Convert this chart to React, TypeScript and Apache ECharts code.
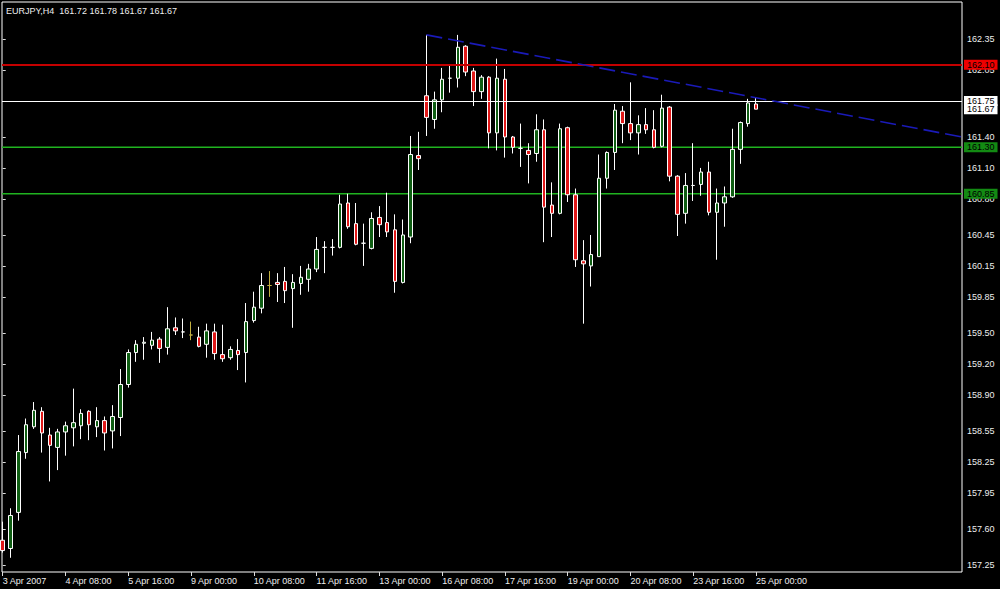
import React, { useEffect, useRef } from "react";
import * as echarts from "echarts";

const FONT = "'Liberation Sans', Arial, sans-serif";
const TEXT = "#eeeeee";

const chartTitle = "EURJPY,H4  161.72 161.78 161.67 161.67";

// H4 bars from 3 Apr 2007 00:00 (index 0) to 25 Apr 2007 00:00 (index 96)
const opens = [
  157.49, 157.41, 157.76, 158.34, 158.59, 158.74, 158.51, 158.39, 158.54, 158.58,
  158.60, 158.74, 158.59, 158.65, 158.55, 158.68, 159.00, 159.31, 159.40, 159.38,
  159.44, 159.36, 159.55, 159.51, 159.48, 159.46, 159.39, 159.51, 159.29, 159.26,
  159.33, 159.31, 159.62, 159.74, 159.96, 159.99, 160.00, 159.93, 159.98, 160.02,
  160.12, 160.33, 160.33, 160.33, 160.76, 160.56, 160.37, 160.32, 160.62, 160.57,
  160.50, 159.99, 160.43, 161.22, 161.80, 161.57, 161.76, 161.97, 161.97, 162.28,
  162.04, 161.84, 161.98, 161.44, 161.96, 161.40, 161.29, 161.27, 161.24, 161.47,
  160.74, 160.66, 161.49, 160.84, 160.20, 160.15, 160.24, 161.00, 161.25, 161.65,
  161.53, 161.44, 161.52, 161.47, 161.31, 161.69, 161.02, 160.66, 160.93, 160.94,
  161.06, 160.67, 160.76, 160.82, 161.28, 161.53, 161.72,
];
const highs = [
  157.67, 157.80, 158.51, 158.67, 158.83, 158.78, 158.58, 158.57, 158.64, 158.96,
  158.76, 158.75, 158.78, 158.69, 158.80, 159.15, 159.34, 159.43, 159.46, 159.51,
  159.46, 159.75, 159.65, 159.64, 159.61, 159.56, 159.59, 159.59, 159.58, 159.37,
  159.44, 159.79, 159.90, 160.08, 160.10, 160.08, 160.14, 160.07, 160.15, 160.17,
  160.43, 160.39, 160.41, 160.84, 160.85, 160.76, 160.56, 160.67, 160.73, 160.86,
  160.65, 160.60, 161.41, 161.45, 162.39, 161.84, 162.07, 162.09, 162.39, 162.29,
  162.07, 162.00, 161.99, 162.16, 162.06, 161.41, 161.53, 161.34, 161.62, 161.57,
  160.96, 161.53, 161.50, 160.90, 160.40, 160.45, 161.23, 161.26, 161.72, 161.70,
  161.93, 161.61, 161.68, 161.66, 161.81, 161.70, 161.03, 161.05, 161.34, 161.10,
  161.16, 160.90, 160.92, 161.48, 161.55, 161.77, 161.78,
];
const lows = [
  157.37, 157.32, 157.68, 158.28, 158.57, 158.34, 158.06, 158.17, 158.31, 158.40,
  158.47, 158.46, 158.49, 158.36, 158.38, 158.50, 158.97, 159.22, 159.24, 159.34,
  159.21, 159.29, 159.48, 159.45, 159.43, 159.36, 159.26, 159.24, 159.22, 159.24,
  159.14, 159.02, 159.60, 159.69, 159.85, 159.80, 159.79, 159.55, 159.87, 159.90,
  160.09, 160.08, 160.25, 160.32, 160.51, 160.35, 160.15, 160.31, 160.43, 160.43,
  159.89, 159.98, 160.37, 161.08, 161.41, 161.48, 161.64, 161.83, 161.88, 161.99,
  161.70, 161.77, 161.29, 161.27, 161.20, 161.24, 161.11, 160.95, 161.16, 160.38,
  160.43, 160.65, 160.77, 160.14, 159.59, 159.95, 160.24, 160.90, 161.08, 161.34,
  161.37, 161.23, 161.43, 161.29, 161.30, 160.97, 160.44, 160.56, 160.78, 160.83,
  160.64, 160.21, 160.53, 160.81, 161.14, 161.50, 161.67,
];
const closes = [
  157.39, 157.73, 158.35, 158.61, 158.75, 158.53, 158.41, 158.54, 158.60, 158.63,
  158.72, 158.61, 158.65, 158.53, 158.69, 159.00, 159.31, 159.39, 159.41, 159.43,
  159.35, 159.54, 159.52, 159.51, 159.48, 159.37, 159.52, 159.30, 159.25, 159.34,
  159.29, 159.61, 159.75, 159.96, 159.96, 159.97, 159.91, 159.99, 160.04, 160.12,
  160.31, 160.33, 160.33, 160.75, 160.53, 160.36, 160.37, 160.61, 160.55, 160.48,
  160.00, 160.45, 161.23, 161.19, 161.59, 161.76, 161.96, 161.97, 162.27, 162.03,
  161.84, 161.98, 161.44, 161.97, 161.40, 161.30, 161.29, 161.23, 161.47, 160.72,
  160.66, 161.48, 160.84, 160.21, 160.17, 160.26, 161.00, 161.25, 161.66, 161.53,
  161.44, 161.52, 161.47, 161.30, 161.68, 161.02, 160.65, 160.93, 160.93, 161.06,
  160.67, 160.76, 160.82, 161.28, 161.54, 161.73, 161.67,
];
const yellowBars = [24, 34];

const xTickBars = [0, 8, 16, 24, 32, 40, 48, 56, 64, 72, 80, 88, 96];
const xTickLabels = [
  "3 Apr 2007", "4 Apr 08:00", "5 Apr 16:00", "9 Apr 00:00", "10 Apr 08:00",
  "11 Apr 16:00", "13 Apr 00:00", "16 Apr 08:00", "17 Apr 16:00", "19 Apr 00:00",
  "20 Apr 08:00", "23 Apr 16:00", "25 Apr 00:00",
];
const yTickValues = [
  162.35, 162.05, 161.75, 161.4, 161.1, 160.8, 160.45, 160.15, 159.85,
  159.5, 159.2, 158.9, 158.55, 158.25, 157.95, 157.6, 157.25,
];

const redLevel = 162.1;
const whiteLevel = 161.75;
const bidLevel = 161.67;
const greenLevels = [161.3, 160.85];
const trendStart = [54, 162.39];
const trendEnd = [122.25, 161.4];

const X_MIN = -0.09;
const X_MAX = 122.25;
const Y_MIN = 157.182;
const Y_MAX = 162.709;

const GREEN_LINE = "#20b420";

const boxLabel = (bg: string, value: number) => ({
  show: true,
  position: "end" as const,
  distance: 2,
  formatter: () => value.toFixed(2),
  backgroundColor: bg,
  color: "#000",
  fontFamily: FONT,
  fontSize: 9,
  lineHeight: 10,
  padding: [0, 3, 0, 3],
});

export default function App() {
  const ref = useRef<HTMLDivElement>(null);

  useEffect(() => {
    if (!ref.current) return;
    const chart = echarts.init(ref.current, undefined, { renderer: "svg" });

    const data = opens.map((o, i) => {
      const value = [i, o, closes[i], lows[i], highs[i]];
      if (yellowBars.includes(i)) {
        return {
          value,
          itemStyle: { borderColor: "#c2b040", borderColor0: "#c2b040" },
        };
      }
      return value;
    });

    const greenSeries = greenLevels.map((lv) => ({
      type: "line",
      data: [
        [X_MIN, lv],
        [X_MAX, lv],
      ],
      symbol: "none",
      silent: true,
      z: 1,
      color: GREEN_LINE,
      lineStyle: { color: GREEN_LINE, width: 1.4, type: "solid", opacity: 1 },
    }));

    const option: any = {
      animation: false,
      backgroundColor: "#000",
      title: {
        text: chartTitle,
        left: 6,
        top: 5,
        padding: 0,
        textStyle: {
          color: TEXT,
          fontSize: 9,
          fontWeight: "normal",
          fontFamily: FONT,
          lineHeight: 11,
        },
      },
      grid: {
        left: 2,
        top: 2,
        right: 38,
        bottom: 17,
        show: true,
        borderColor: "#ffffff",
        borderWidth: 1,
        backgroundColor: "#000",
        containLabel: false,
        outerBoundsMode: "none",
      },
      xAxis: {
        type: "value",
        min: X_MIN,
        max: X_MAX,
        axisLine: { show: false },
        splitLine: { show: false },
        axisTick: {
          show: true,
          customValues: xTickBars,
          length: 4,
          lineStyle: { color: "#dddddd", width: 1 },
        },
        axisLabel: {
          show: true,
          customValues: xTickBars,
          formatter: (v: number) => {
            const k = xTickBars.indexOf(Math.round(v));
            return k >= 0 ? xTickLabels[k] : "";
          },
          align: "left",
          margin: 3,
          color: TEXT,
          fontFamily: FONT,
          fontSize: 9,
          lineHeight: 11,
        },
      },
      yAxis: {
        type: "value",
        position: "right",
        min: Y_MIN,
        max: Y_MAX,
        axisLine: { show: false },
        splitLine: { show: false },
        axisTick: {
          show: true,
          customValues: yTickValues,
          length: 3,
          lineStyle: { color: "#dddddd", width: 1 },
        },
        axisLabel: {
          show: true,
          customValues: yTickValues,
          formatter: (v: number) => v.toFixed(2),
          margin: 5,
          color: TEXT,
          fontFamily: FONT,
          fontSize: 9,
        },
      },
      series: [
        ...greenSeries,
        {
          type: "candlestick",
          data,
          barWidth: 4,
          silent: true,
          z: 2,
          itemStyle: {
            color: "#0f5e13",
            color0: "#e01818",
            borderColor: "#ffffff",
            borderColor0: "#ffffff",
            borderWidth: 1,
          },
          markLine: {
            silent: true,
            symbol: ["none", "none"],
            animation: false,
            data: [
              {
                yAxis: redLevel,
                lineStyle: { color: "#c40000", width: 2, type: "solid", opacity: 1 },
                label: boxLabel("#ee0000", redLevel),
              },
              {
                yAxis: whiteLevel,
                lineStyle: { color: "#ffffff", width: 1, type: "solid", opacity: 1 },
                label: boxLabel("#ffffff", whiteLevel),
              },
              {
                yAxis: bidLevel,
                lineStyle: { color: "rgba(0,0,0,0)", width: 1, type: "solid" },
                label: boxLabel("#ffffff", bidLevel),
              },
              ...greenLevels.map((lv) => ({
                yAxis: lv,
                lineStyle: { color: "rgba(0,0,0,0)", width: 1, type: "solid" },
                label: boxLabel("#138a13", lv),
              })),
            ],
          },
        },
        {
          type: "line",
          data: [trendStart, trendEnd],
          symbol: "none",
          silent: true,
          z: 5,
          color: "#1a1ab8",
          lineStyle: { color: "#1a1ab8", width: 1.6, type: [16, 6] },
        },
      ],
    };

    chart.setOption(option);
    return () => chart.dispose();
  }, []);

  return (
    <div
      ref={ref}
      style={{ position: "absolute", left: 0, top: 0, width: 1000, height: 589 }}
    />
  );
}
